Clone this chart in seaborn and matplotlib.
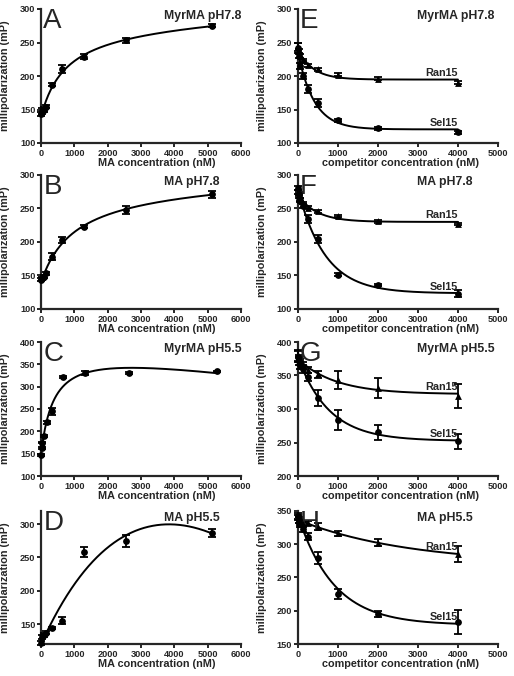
import numpy as np
import matplotlib
matplotlib.use("Agg")
import matplotlib.pyplot as plt
import seaborn as sns

# MA titration (nM) and competitor series (nM)
ma_conc = [0, 40, 80, 160, 320, 640, 1280, 2560, 5120]
ma_conc_c = [0, 20.6, 41.25, 82.5, 165, 330, 660, 1320, 2640, 5280]
comp_conc = [0, 31.25, 62.5, 125, 250, 500, 1000, 2000, 4000]

# left column, millipolarization (mP) and error
a_mp = [143, 148, 150, 154, 187, 211, 229, 253, 275]
a_err = [3, 4, 3, 2, 2, 6, 4, 4, 2]
b_mp = [144, 146, 148, 153, 178, 203, 223, 248, 271]
b_err = [2, 2, 2, 2, 5, 5, 2, 6, 5]
c_mp = [147, 163, 175, 190, 220, 245, 321, 331, 331, 334]
c_err = [2, 2, 2, 2, 3, 8, 2, 5, 2, 2]
d_mp = [122, 130, 133, 137, 144, 155, 258, 274, 287]
d_err = [3, 3, 3, 2, 2, 5, 7, 9, 6]

# right column, Sel15 and Ran15 competitors
e_sel = [242, 230, 215, 200, 181, 159, 134, 122, 116]
e_sel_err = [8, 3, 5, 5, 6, 6, 2, 2, 2]
e_ran = [244, 238, 230, 224, 216, 210, 202, 196, 190]
e_ran_err = [6, 3, 3, 2, 2, 2, 2, 2, 2]
f_sel = [281, 272, 263, 253, 234, 204, 151, 136, 123]
f_sel_err = [3, 3, 3, 3, 6, 6, 2, 2, 5]
f_ran = [275, 268, 263, 258, 251, 246, 239, 231, 227]
f_ran_err = [3, 3, 2, 2, 2, 2, 2, 2, 2]
g_sel = [378, 372, 366, 360, 348, 317, 284, 265, 252]
g_sel_err = [8, 6, 6, 6, 6, 12, 15, 11, 11]
g_ran = [380, 375, 370, 365, 358, 352, 343, 332, 320]
g_ran_err = [8, 5, 5, 5, 5, 5, 13, 15, 18]
h_sel = [342, 336, 330, 322, 311, 279, 225, 195, 183]
h_sel_err = [4, 4, 4, 4, 5, 9, 7, 5, 18]
h_ran = [340, 336, 333, 330, 331, 326, 316, 302, 285]
h_ran_err = [4, 4, 4, 3, 3, 5, 4, 5, 12]


def fit_total(x, y):
    # one site total binding: background + Bmax*x/(Kd+x) + NS*x
    x = np.asarray(x, float)
    y = np.asarray(y, float)
    best = (np.inf, None, None)
    for k in np.logspace(0, 5, 2000):
        design = np.column_stack([np.ones_like(x), x / (k + x), x])
        coef = np.linalg.lstsq(design, y, rcond=None)[0]
        sse = np.sum((design @ coef - y) ** 2)
        if sse < best[0]:
            best = (sse, k, coef)
    _, k, coef = best
    return lambda t: coef[0] + coef[1] * t / (k + t) + coef[2] * t


def fit_decay(x, y):
    # one phase decay to a plateau
    x = np.asarray(x, float)
    y = np.asarray(y, float)
    best = (np.inf, None, None)
    for k in np.logspace(-5, -1, 2000):
        design = np.column_stack([np.ones_like(x), np.exp(-k * x)])
        coef = np.linalg.lstsq(design, y, rcond=None)[0]
        sse = np.sum((design @ coef - y) ** 2)
        if sse < best[0]:
            best = (sse, k, coef)
    _, k, coef = best
    return lambda t: coef[0] + coef[1] * np.exp(-k * t)


def draw_points(ax, x, y, err, marker, size=24):
    ax.errorbar(x, y, yerr=err, fmt="none", ecolor="black", elinewidth=1.3,
                capsize=3, capthick=1.3, clip_on=False, zorder=3)
    sns.scatterplot(x=x, y=y, marker=marker, color="black", s=size, linewidth=0,
                    ax=ax, zorder=4, clip_on=False, legend=False)


def draw_curve(ax, f, xmax):
    xx = np.linspace(0, xmax, 400)
    sns.lineplot(x=xx, y=f(xx), color="black", linewidth=1.4, ax=ax,
                 estimator=None, zorder=2)


def style_axes(ax, letter, title, ylim, yticks, xmax, xlabel, xlab_pos, title_x):
    ax.set_xlim(0, xmax)
    ax.set_ylim(*ylim)
    ax.set_xticks(np.arange(0, xmax + 1, 1000))
    ax.set_yticks(yticks)
    sns.despine(ax=ax)
    for side in ["left", "bottom"]:
        ax.spines[side].set_linewidth(1.6)
    ax.tick_params(direction="out", length=3, width=1.4, pad=1,
                   labelsize=6.6)
    for lab in ax.get_xticklabels() + ax.get_yticklabels():
        lab.set_fontweight("bold")
    ax.set_xlabel(xlabel, fontsize=7.8, fontweight="bold")
    ax.set_ylabel("millipolarization (mP)", fontsize=7.8, fontweight="bold")
    ax.xaxis.set_label_coords(xlab_pos, -0.11)
    ax.yaxis.set_label_coords(-0.155, 0.5)
    ax.text(0.012, 0.858, letter, transform=ax.transAxes, fontsize=20,
            va="baseline", ha="left")
    ax.text(title_x, 0.925, title, transform=ax.transAxes, fontsize=8.8,
            fontweight="bold", va="baseline", ha="left")


sns.set_style("ticks")
plt.rcParams["font.family"] = ["Liberation Sans", "DejaVu Sans"]

fig = plt.figure(figsize=(5.14, 6.76), dpi=100)
W, H = 514.0, 676.0
rows = [(9, 143), (175, 309), (342, 476), (510.7, 644)]
lefts = [(41, 200), (297.7, 200.3)]


def make_axes(row, col):
    top, bottom = rows[row]
    left, width = lefts[col]
    return fig.add_axes([left / W, 1 - bottom / H, width / W, (bottom - top) / H])


left_panels = [
    ("A", "MyrMA pH7.8", ma_conc, a_mp, a_err, (100, 300), [100, 150, 200, 250, 300]),
    ("B", "MA pH7.8", ma_conc, b_mp, b_err, (100, 300), [100, 150, 200, 250, 300]),
    ("C", "MyrMA pH5.5", ma_conc_c, c_mp, c_err, (100, 400), [100, 150, 200, 250, 300, 350, 400]),
    ("D", "MA pH5.5", ma_conc, d_mp, d_err, (120, 320), [150, 200, 250, 300]),
]
for i, (letter, title, x, y, err, ylim, yticks) in enumerate(left_panels):
    ax = make_axes(i, 0)
    draw_curve(ax, fit_total(x, y), max(x))
    draw_points(ax, x, y, err, "o")
    style_axes(ax, letter, title, ylim, yticks, 6000, "MA concentration (nM)", 0.58, 0.615)

right_panels = [
    ("E", "MyrMA pH7.8", e_sel, e_sel_err, e_ran, e_ran_err, (100, 300), [100, 150, 200, 250, 300]),
    ("F", "MA pH7.8", f_sel, f_sel_err, f_ran, f_ran_err, (100, 300), [100, 150, 200, 250, 300]),
    ("G", "MyrMA pH5.5", g_sel, g_sel_err, g_ran, g_ran_err, (200, 400), [200, 250, 300, 350, 400]),
    ("H", "MA pH5.5", h_sel, h_sel_err, h_ran, h_ran_err, (150, 350), [150, 200, 250, 300, 350]),
]
for i, (letter, title, sel, sel_err, ran, ran_err, ylim, yticks) in enumerate(right_panels):
    ax = make_axes(i, 1)
    for name, y, err, marker in [("Sel15", sel, sel_err, "o"), ("Ran15", ran, ran_err, "^")]:
        f = fit_decay(comp_conc, y)
        draw_curve(ax, f, max(comp_conc))
        draw_points(ax, comp_conc, y, err, marker)
        ax.annotate(name, xy=(4000, f(4000.0)), xytext=(0, 2.5), textcoords="offset points",
                    ha="right", va="baseline", fontsize=7.8, fontweight="bold")
    style_axes(ax, letter, title, ylim, yticks, 5000, "competitor concentration (nM)", 0.515, 0.596)

fig.savefig("out.png", dpi=100)
